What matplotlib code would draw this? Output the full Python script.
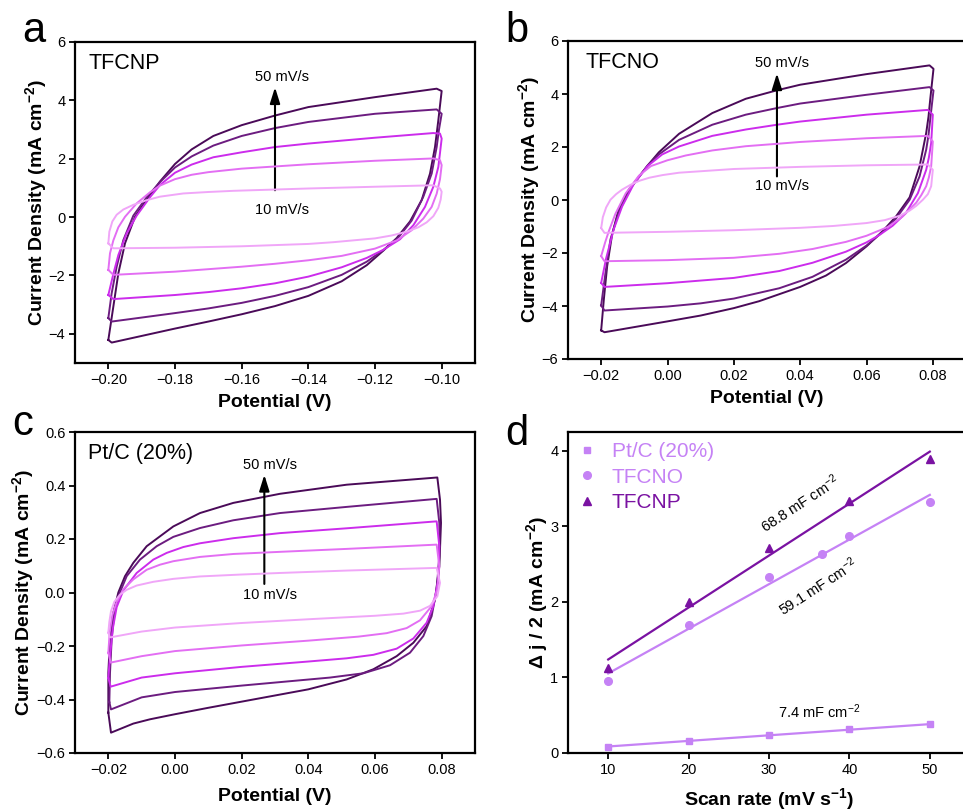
import matplotlib
matplotlib.use("Agg")
import matplotlib.pyplot as plt
import numpy as np

plt.rcParams["font.family"] = "Liberation Sans"
plt.rcParams["mathtext.fontset"] = "custom"
plt.rcParams["mathtext.rm"] = "Liberation Sans"
plt.rcParams["mathtext.bf"] = "Liberation Sans:bold"
plt.rcParams["mathtext.default"] = "regular"

rates = [10, 20, 30, 40, 50]
rate_colors = {10: "#f0a6f8", 20: "#e36ef3", 30: "#cc2cec", 40: "#6c1c80", 50: "#4a0a58"}

# CV loops: forward sweep (anodic) then reverse sweep (cathodic), (E / V, j / mA cm-2)
tfcnp_fwd = {
    10: [(-0.200, -0.90), (-0.1997, -0.50), (-0.1988, -0.15), (-0.1975, 0.08), (-0.1955, 0.26), (-0.1925, 0.42),
         (-0.1885, 0.58), (-0.1845, 0.70), (-0.1775, 0.81), (-0.170, 0.86), (-0.1625, 0.90), (-0.14, 0.98),
         (-0.12, 1.04), (-0.1025, 1.09), (-0.1005, 0.98)],
    20: [(-0.200, -1.81), (-0.1995, -1.24), (-0.1985, -0.80), (-0.197, -0.35), (-0.195, 0.01), (-0.1915, 0.47),
         (-0.1875, 0.85), (-0.1845, 1.08), (-0.18, 1.30), (-0.175, 1.45), (-0.17, 1.54), (-0.16, 1.66),
         (-0.14, 1.81), (-0.12, 1.93), (-0.1025, 2.01), (-0.1005, 1.95)],
    30: [(-0.200, -2.67), (-0.1985, -1.95), (-0.197, -1.30), (-0.1945, -0.56), (-0.1915, 0.05), (-0.1875, 0.68),
         (-0.1845, 1.10), (-0.18, 1.52), (-0.175, 1.80), (-0.1685, 2.05), (-0.16, 2.22), (-0.15, 2.40),
         (-0.14, 2.52), (-0.12, 2.72), (-0.1025, 2.88), (-0.1005, 2.86)],
    40: [(-0.200, -3.46), (-0.199, -2.61), (-0.1975, -1.70), (-0.1955, -0.79), (-0.1925, 0.05), (-0.1885, 0.68),
         (-0.1845, 1.20), (-0.18, 1.70), (-0.175, 2.08), (-0.1685, 2.45), (-0.16, 2.78), (-0.15, 3.05),
         (-0.14, 3.26), (-0.12, 3.54), (-0.1015, 3.69)],
    50: [(-0.200, -4.21), (-0.1985, -3.07), (-0.197, -1.93), (-0.195, -0.90), (-0.192, 0.01), (-0.1885, 0.60),
         (-0.1845, 1.22), (-0.18, 1.82), (-0.175, 2.32), (-0.1685, 2.78), (-0.16, 3.15), (-0.15, 3.48),
         (-0.14, 3.77), (-0.12, 4.11), (-0.1015, 4.40)],
}
tfcnp_rev = {
    10: [(-0.100, 0.87), (-0.1003, 0.60), (-0.101, 0.32), (-0.1025, 0.03), (-0.1045, -0.18), (-0.107, -0.35),
         (-0.1105, -0.50), (-0.115, -0.63), (-0.12, -0.73), (-0.1325, -0.86), (-0.14, -0.92), (-0.16, -1.00),
         (-0.18, -1.05), (-0.1985, -1.07)],
    20: [(-0.100, 1.78), (-0.1005, 1.30), (-0.1015, 0.80), (-0.103, 0.35), (-0.1055, -0.05), (-0.109, -0.45),
         (-0.1135, -0.80), (-0.12, -1.08), (-0.13, -1.33), (-0.14, -1.48), (-0.15, -1.60), (-0.16, -1.70),
         (-0.18, -1.87), (-0.1985, -1.98)],
    30: [(-0.100, 2.69), (-0.1005, 2.20), (-0.101, 1.72), (-0.1025, 1.04), (-0.105, 0.35), (-0.1085, -0.28),
         (-0.1125, -0.76), (-0.1175, -1.12), (-0.1225, -1.40), (-0.13, -1.72), (-0.14, -2.04), (-0.15, -2.27),
         (-0.16, -2.44), (-0.17, -2.57), (-0.18, -2.67), (-0.1985, -2.81)],
    40: [(-0.100, 3.54), (-0.1008, 3.00), (-0.1015, 2.40), (-0.103, 1.49), (-0.1055, 0.70), (-0.109, -0.12),
         (-0.113, -0.70), (-0.1175, -1.13), (-0.1225, -1.53), (-0.13, -1.98), (-0.14, -2.40), (-0.15, -2.70),
         (-0.16, -2.94), (-0.17, -3.13), (-0.18, -3.29), (-0.199, -3.58)],
    50: [(-0.100, 4.32), (-0.101, 3.32), (-0.102, 2.40), (-0.1035, 1.49), (-0.106, 0.58), (-0.1095, -0.15),
         (-0.1135, -0.72), (-0.1175, -1.15), (-0.1225, -1.65), (-0.13, -2.20), (-0.14, -2.70), (-0.15, -3.05),
         (-0.16, -3.33), (-0.17, -3.58), (-0.18, -3.82), (-0.199, -4.30)],
}

tfcno_fwd = {
    10: [(-0.020, -1.06), (-0.0195, -0.65), (-0.0185, -0.28), (-0.0172, 0.01), (-0.0155, 0.22), (-0.0137, 0.39),
         (-0.0112, 0.57), (-0.0086, 0.72), (-0.0055, 0.84), (-0.0015, 0.94), (0.0035, 1.03), (0.02, 1.17),
         (0.04, 1.25), (0.06, 1.31), (0.0785, 1.34), (0.080, 1.14)],
    20: [(-0.020, -2.12), (-0.0188, -1.60), (-0.0177, -1.18), (-0.0157, -0.52), (-0.0126, 0.25), (-0.0086, 0.92),
         (-0.005, 1.28), (0.0, 1.50), (0.0055, 1.68), (0.0135, 1.87), (0.0236, 2.03), (0.033, 2.12),
         (0.04, 2.19), (0.06, 2.33), (0.0785, 2.42), (0.080, 2.21)],
    30: [(-0.020, -3.13), (-0.0185, -2.20), (-0.0162, -1.10), (-0.0137, -0.25), (-0.0101, 0.62), (-0.006, 1.28),
         (-0.0016, 1.72), (0.0035, 2.02), (0.0135, 2.42), (0.0236, 2.66), (0.033, 2.84), (0.04, 2.96),
         (0.06, 3.22), (0.0785, 3.40), (0.080, 3.22)],
    40: [(-0.020, -3.98), (-0.0187, -2.75), (-0.0172, -1.49), (-0.0147, -0.45), (-0.0111, 0.45), (-0.006, 1.30),
         (-0.0026, 1.72), (0.0035, 2.27), (0.0135, 2.84), (0.0236, 3.22), (0.033, 3.47), (0.04, 3.64),
         (0.06, 3.97), (0.079, 4.26), (0.0802, 4.13)],
    50: [(-0.020, -4.92), (-0.0192, -3.76), (-0.0182, -2.50), (-0.0167, -1.30), (-0.0147, -0.35), (-0.0116, 0.40),
         (-0.006, 1.30), (-0.0026, 1.80), (0.0035, 2.50), (0.0135, 3.28), (0.0236, 3.82), (0.033, 4.14),
         (0.04, 4.35), (0.06, 4.75), (0.079, 5.08), (0.0802, 4.95)],
}
tfcno_rev = {
    10: [(0.0795, 0.52), (0.0785, 0.22), (0.077, 0.01), (0.075, -0.22), (0.073, -0.40), (0.0699, -0.60),
         (0.0655, -0.76), (0.06, -0.87), (0.05, -0.98), (0.04, -1.05), (0.02, -1.14), (0.0, -1.20), (-0.019, -1.24)],
    20: [(0.0795, 1.27), (0.0788, 0.85), (0.078, 0.52), (0.0765, 0.18), (0.075, -0.10), (0.0709, -0.62),
         (0.0664, -1.02), (0.06, -1.35), (0.0538, -1.58), (0.0437, -1.85), (0.0337, -2.03), (0.02, -2.18),
         (0.0, -2.27), (-0.019, -2.31)],
    30: [(0.0795, 2.15), (0.0788, 1.60), (0.078, 1.14), (0.0755, 0.26), (0.0719, -0.49), (0.0679, -0.97),
         (0.0639, -1.32), (0.06, -1.60), (0.0538, -1.95), (0.0437, -2.37), (0.0337, -2.68), (0.02, -2.94),
         (0.0, -3.14), (-0.019, -3.28)],
    40: [(0.0792, 3.03), (0.0787, 2.45), (0.078, 1.90), (0.076, 0.89), (0.073, 0.01), (0.0689, -0.70),
         (0.0649, -1.20), (0.06, -1.72), (0.0538, -2.25), (0.0437, -2.90), (0.0337, -3.33), (0.02, -3.72),
         (0.01, -3.90), (0.0, -4.02), (-0.019, -4.17)],
    50: [(0.0792, 3.78), (0.0787, 3.15), (0.078, 2.53), (0.076, 1.27), (0.073, 0.10), (0.0689, -0.62),
         (0.0649, -1.17), (0.06, -1.75), (0.0538, -2.38), (0.0478, -2.85), (0.04, -3.28), (0.0276, -3.82),
         (0.02, -4.08), (0.01, -4.36), (0.0, -4.58), (-0.019, -4.99)],
}

ptc_fwd = {
    10: [(-0.020, -0.150), (-0.0197, -0.110), (-0.0192, -0.070), (-0.0182, -0.035), (-0.0165, -0.008),
         (-0.0145, 0.010), (-0.0115, 0.026), (-0.0065, 0.040), (-0.0005, 0.051), (0.0075, 0.060),
         (0.0195, 0.067), (0.0315, 0.073), (0.0515, 0.082), (0.0785, 0.092)],
    20: [(-0.020, -0.225), (-0.0196, -0.150), (-0.0188, -0.085), (-0.0175, -0.035), (-0.0155, 0.012),
         (-0.0125, 0.049), (-0.0085, 0.085), (-0.0045, 0.104), (-0.0005, 0.117), (0.0075, 0.133),
         (0.0175, 0.144), (0.0315, 0.152), (0.0515, 0.163), (0.0785, 0.179)],
    30: [(-0.020, -0.320), (-0.0195, -0.238), (-0.0187, -0.138), (-0.0175, -0.055), (-0.0155, 0.008),
         (-0.0115, 0.073), (-0.0065, 0.123), (-0.0025, 0.148), (0.0025, 0.170), (0.0075, 0.184),
         (0.0175, 0.203), (0.0315, 0.222), (0.0515, 0.240), (0.0785, 0.266)],
    40: [(-0.0197, -0.410), (-0.0195, -0.300), (-0.019, -0.175), (-0.0183, -0.088), (-0.017, -0.014),
         (-0.0145, 0.061), (-0.0105, 0.123), (-0.0055, 0.173), (-0.0005, 0.208), (0.0075, 0.241),
         (0.0175, 0.270), (0.0315, 0.297), (0.0515, 0.320), (0.0785, 0.350)],
    50: [(-0.020, -0.449), (-0.020, -0.300), (-0.0195, -0.175), (-0.0185, -0.076), (-0.017, 0.0), (-0.015, 0.061),
         (-0.0125, 0.111), (-0.0085, 0.173), (-0.0045, 0.210), (-0.0005, 0.247), (0.0075, 0.297), (0.0175, 0.335),
         (0.0315, 0.369), (0.0515, 0.403), (0.0787, 0.430)],
}
ptc_rev = {
    10: [(0.0795, 0.036), (0.0787, -0.014), (0.0765, -0.050), (0.0735, -0.068), (0.0685, -0.079), (0.06, -0.087),
         (0.04, -0.100), (0.02, -0.114), (0.0, -0.131), (-0.01, -0.146), (-0.0195, -0.168)],
    20: [(0.0793, 0.098), (0.0787, 0.011), (0.077, -0.051), (0.0735, -0.104), (0.0695, -0.133), (0.0635, -0.152),
         (0.055, -0.165), (0.04, -0.180), (0.02, -0.198), (0.0, -0.219), (-0.01, -0.238), (-0.0193, -0.262)],
    30: [(0.0793, 0.173), (0.079, 0.049), (0.0775, -0.051), (0.0755, -0.113), (0.0715, -0.172), (0.0665, -0.210),
         (0.0595, -0.233), (0.0515, -0.246), (0.04, -0.258), (0.02, -0.278), (0.0, -0.302), (-0.01, -0.318),
         (-0.0193, -0.352)],
    40: [(0.0793, 0.260), (0.0793, 0.135), (0.0785, 0.011), (0.077, -0.088), (0.0745, -0.163), (0.0705, -0.225),
         (0.0645, -0.272), (0.0565, -0.302), (0.0465, -0.318), (0.0315, -0.335), (0.02, -0.348), (0.0, -0.372),
         (-0.01, -0.392), (-0.0192, -0.437)],
    50: [(0.0795, 0.347), (0.0798, 0.260), (0.0793, 0.098), (0.078, -0.026), (0.0755, -0.126), (0.0715, -0.188),
         (0.0665, -0.238), (0.0595, -0.287), (0.0515, -0.325), (0.04, -0.362), (0.03, -0.385), (0.02, -0.408),
         (0.01, -0.431), (0.0, -0.455), (-0.0075, -0.474), (-0.0125, -0.490), (-0.0192, -0.524)],
}

# double-layer capacitance fits
scan_rate = [10, 20, 30, 40, 50]
ptc_dj = [0.079, 0.159, 0.238, 0.312, 0.383]
tfcno_rate = [10, 20, 30, 36.6, 40, 50]
tfcno_dj = [0.956, 1.696, 2.331, 2.630, 2.868, 3.322]
tfcnp_dj = [1.132, 1.996, 2.718, 3.335, 3.890]
cdl = {"Pt/C (20%)": 7.4, "TFCNO": 59.1, "TFCNP": 68.8}  # mF cm-2

c_light = "#c582f5"
c_dark = "#7a12a2"

W, H = 963, 811
fig = plt.figure(figsize=(W / 100, H / 100), dpi=100)


def px_axes(left, top, right, bottom):
    return fig.add_axes([left / W, 1 - bottom / H, (right - left) / W, (bottom - top) / H])


def style(ax):
    for s in ax.spines.values():
        s.set_linewidth(1.6)
    ax.tick_params(direction="out", length=4, width=1.3, labelsize=10.5, pad=3)


def draw_cv(ax, fwd, rev):
    for r in rates:
        pts = fwd[r] + rev[r] + [fwd[r][0]]
        e = [p[0] for p in pts]
        j = [p[1] for p in pts]
        ax.plot(e, j, color=rate_colors[r], lw=1.4, zorder=6 - r / 10, solid_joinstyle="round")


def rate_arrow(ax, x, tail, tip, top_lbl, bot_lbl, xt):
    ax.annotate("", xy=(x, tip), xytext=(x, tail),
                arrowprops=dict(arrowstyle="-|>,head_length=0.8,head_width=0.25", color="k", lw=1.5,
                                mutation_scale=12, shrinkA=0, shrinkB=0))
    ax.text(xt, top_lbl, "50 mV/s", ha="center", va="center", fontsize=10.5)
    ax.text(xt, bot_lbl, "10 mV/s", ha="center", va="center", fontsize=10.5)


ylab = "Current Density (mA cm$^{-2}$)"
lab_fs = 14

# a: TFCNP
ax_a = px_axes(75, 42, 475, 363)
draw_cv(ax_a, tfcnp_fwd, tfcnp_rev)
ax_a.set_xlim(-0.21, -0.09)
ax_a.set_ylim(-5, 6)
ax_a.set_xticks([-0.20, -0.18, -0.16, -0.14, -0.12, -0.10])
ax_a.set_xticklabels(["\u22120.20", "\u22120.18", "\u22120.16", "\u22120.14", "\u22120.12", "\u22120.10"])
ax_a.set_yticks([-4, -2, 0, 2, 4, 6])
ax_a.text(0.033, 0.965, "TFCNP", transform=ax_a.transAxes, ha="left", va="top", fontsize=15.5)
rate_arrow(ax_a, -0.15, 0.92, 4.45, 4.8, 0.24, -0.148)

# b: TFCNO
ax_b = px_axes(568, 41, 966, 359)
draw_cv(ax_b, tfcno_fwd, tfcno_rev)
ax_b.set_xlim(-0.03, 0.09)
ax_b.set_ylim(-6, 6)
ax_b.set_xticks([-0.02, 0.0, 0.02, 0.04, 0.06, 0.08])
ax_b.set_xticklabels(["\u22120.02", "0.00", "0.02", "0.04", "0.06", "0.08"])
ax_b.set_yticks([-6, -4, -2, 0, 2, 4, 6])
ax_b.text(0.045, 0.965, "TFCNO", transform=ax_b.transAxes, ha="left", va="top", fontsize=15.5)
rate_arrow(ax_b, 0.033, 0.89, 4.78, 5.18, 0.51, 0.0345)

# c: Pt/C
ax_c = px_axes(75, 432, 475, 753)
draw_cv(ax_c, ptc_fwd, ptc_rev)
ax_c.set_xlim(-0.03, 0.09)
ax_c.set_ylim(-0.6, 0.6)
ax_c.set_xticks([-0.02, 0.0, 0.02, 0.04, 0.06, 0.08])
ax_c.set_xticklabels(["\u22120.02", "0.00", "0.02", "0.04", "0.06", "0.08"])
ax_c.set_yticks([-0.6, -0.4, -0.2, 0.0, 0.2, 0.4, 0.6])
ax_c.set_yticklabels(["\u22120.6", "\u22120.4", "\u22120.2", "0.0", "0.2", "0.4", "0.6"])
ax_c.text(0.033, 0.967, "Pt/C (20%)", transform=ax_c.transAxes, ha="left", va="top", fontsize=15.5)
rate_arrow(ax_c, 0.0268, 0.032, 0.44, 0.478, -0.011, 0.0284)

for ax, pad in ((ax_a, 5), (ax_b, 5), (ax_c, 8)):
    style(ax)
    ax.set_xlabel("Potential (V)", fontsize=lab_fs, fontweight="bold", labelpad=pad)
    ax.set_ylabel(ylab, fontsize=lab_fs, fontweight="bold", labelpad=0)
for ax in (ax_a, ax_b):
    ax.set_yticklabels([("\u2212" if t < 0 else "") + str(abs(int(t))) for t in ax.get_yticks()])

# d: scan-rate dependence
ax_d = px_axes(568, 432, 970, 753)
style(ax_d)
sx = np.array([10, 50])
for name, xs, ys, col in [("Pt/C (20%)", scan_rate, ptc_dj, c_light),
                          ("TFCNO", tfcno_rate, tfcno_dj, c_light),
                          ("TFCNP", scan_rate, tfcnp_dj, c_dark)]:
    k = cdl[name] / 1000.0
    b0 = np.mean(ys) - k * np.mean(xs)
    ax_d.plot(sx, k * sx + b0, color=col, lw=1.6)
ax_d.plot(scan_rate, ptc_dj, "s", color=c_light, ms=5, label="Pt/C (20%)")
ax_d.plot(tfcno_rate, tfcno_dj, "o", color=c_light, ms=5.5, label="TFCNO")
ax_d.plot(scan_rate, tfcnp_dj, "^", color=c_dark, ms=6, label="TFCNP")
ax_d.set_xlim(5, 55)
ax_d.set_ylim(0, 4.25)
ax_d.set_xticks([10, 20, 30, 40, 50])
ax_d.set_yticks([0, 1, 2, 3, 4])
ax_d.set_xlabel("Scan rate (mV s$^{-1}$)", fontsize=lab_fs, fontweight="bold", labelpad=7)
ax_d.set_ylabel("\u0394 j / 2 (mA cm$^{-2}$)", fontsize=lab_fs, fontweight="bold", labelpad=0)
ax_d.legend(loc="upper left", frameon=False, fontsize=15, handlelength=0.8, handletextpad=0.8,
            labelspacing=0.3, borderaxespad=0.15, borderpad=0.35, labelcolor="markerfacecolor")
ax_d.text(33.8, 3.30, "68.8 mF cm$^{-2}$", rotation=33, rotation_mode="anchor", ha="center", va="center", fontsize=10.5)
ax_d.text(36.1, 2.20, "59.1 mF cm$^{-2}$", rotation=33, rotation_mode="anchor", ha="center", va="center", fontsize=10.5)
ax_d.text(36.3, 0.55, "7.4 mF cm$^{-2}$", ha="center", va="center", fontsize=10.5)

# panel letters
for lbl, x, y in [("a", 22, 41.7), ("b", 505, 41.7), ("c", 12.7, 435), ("d", 505, 445)]:
    fig.text(x / W, 1 - y / H, lbl, fontsize=30, ha="left", va="baseline")

fig.savefig("out.png", dpi=100)
